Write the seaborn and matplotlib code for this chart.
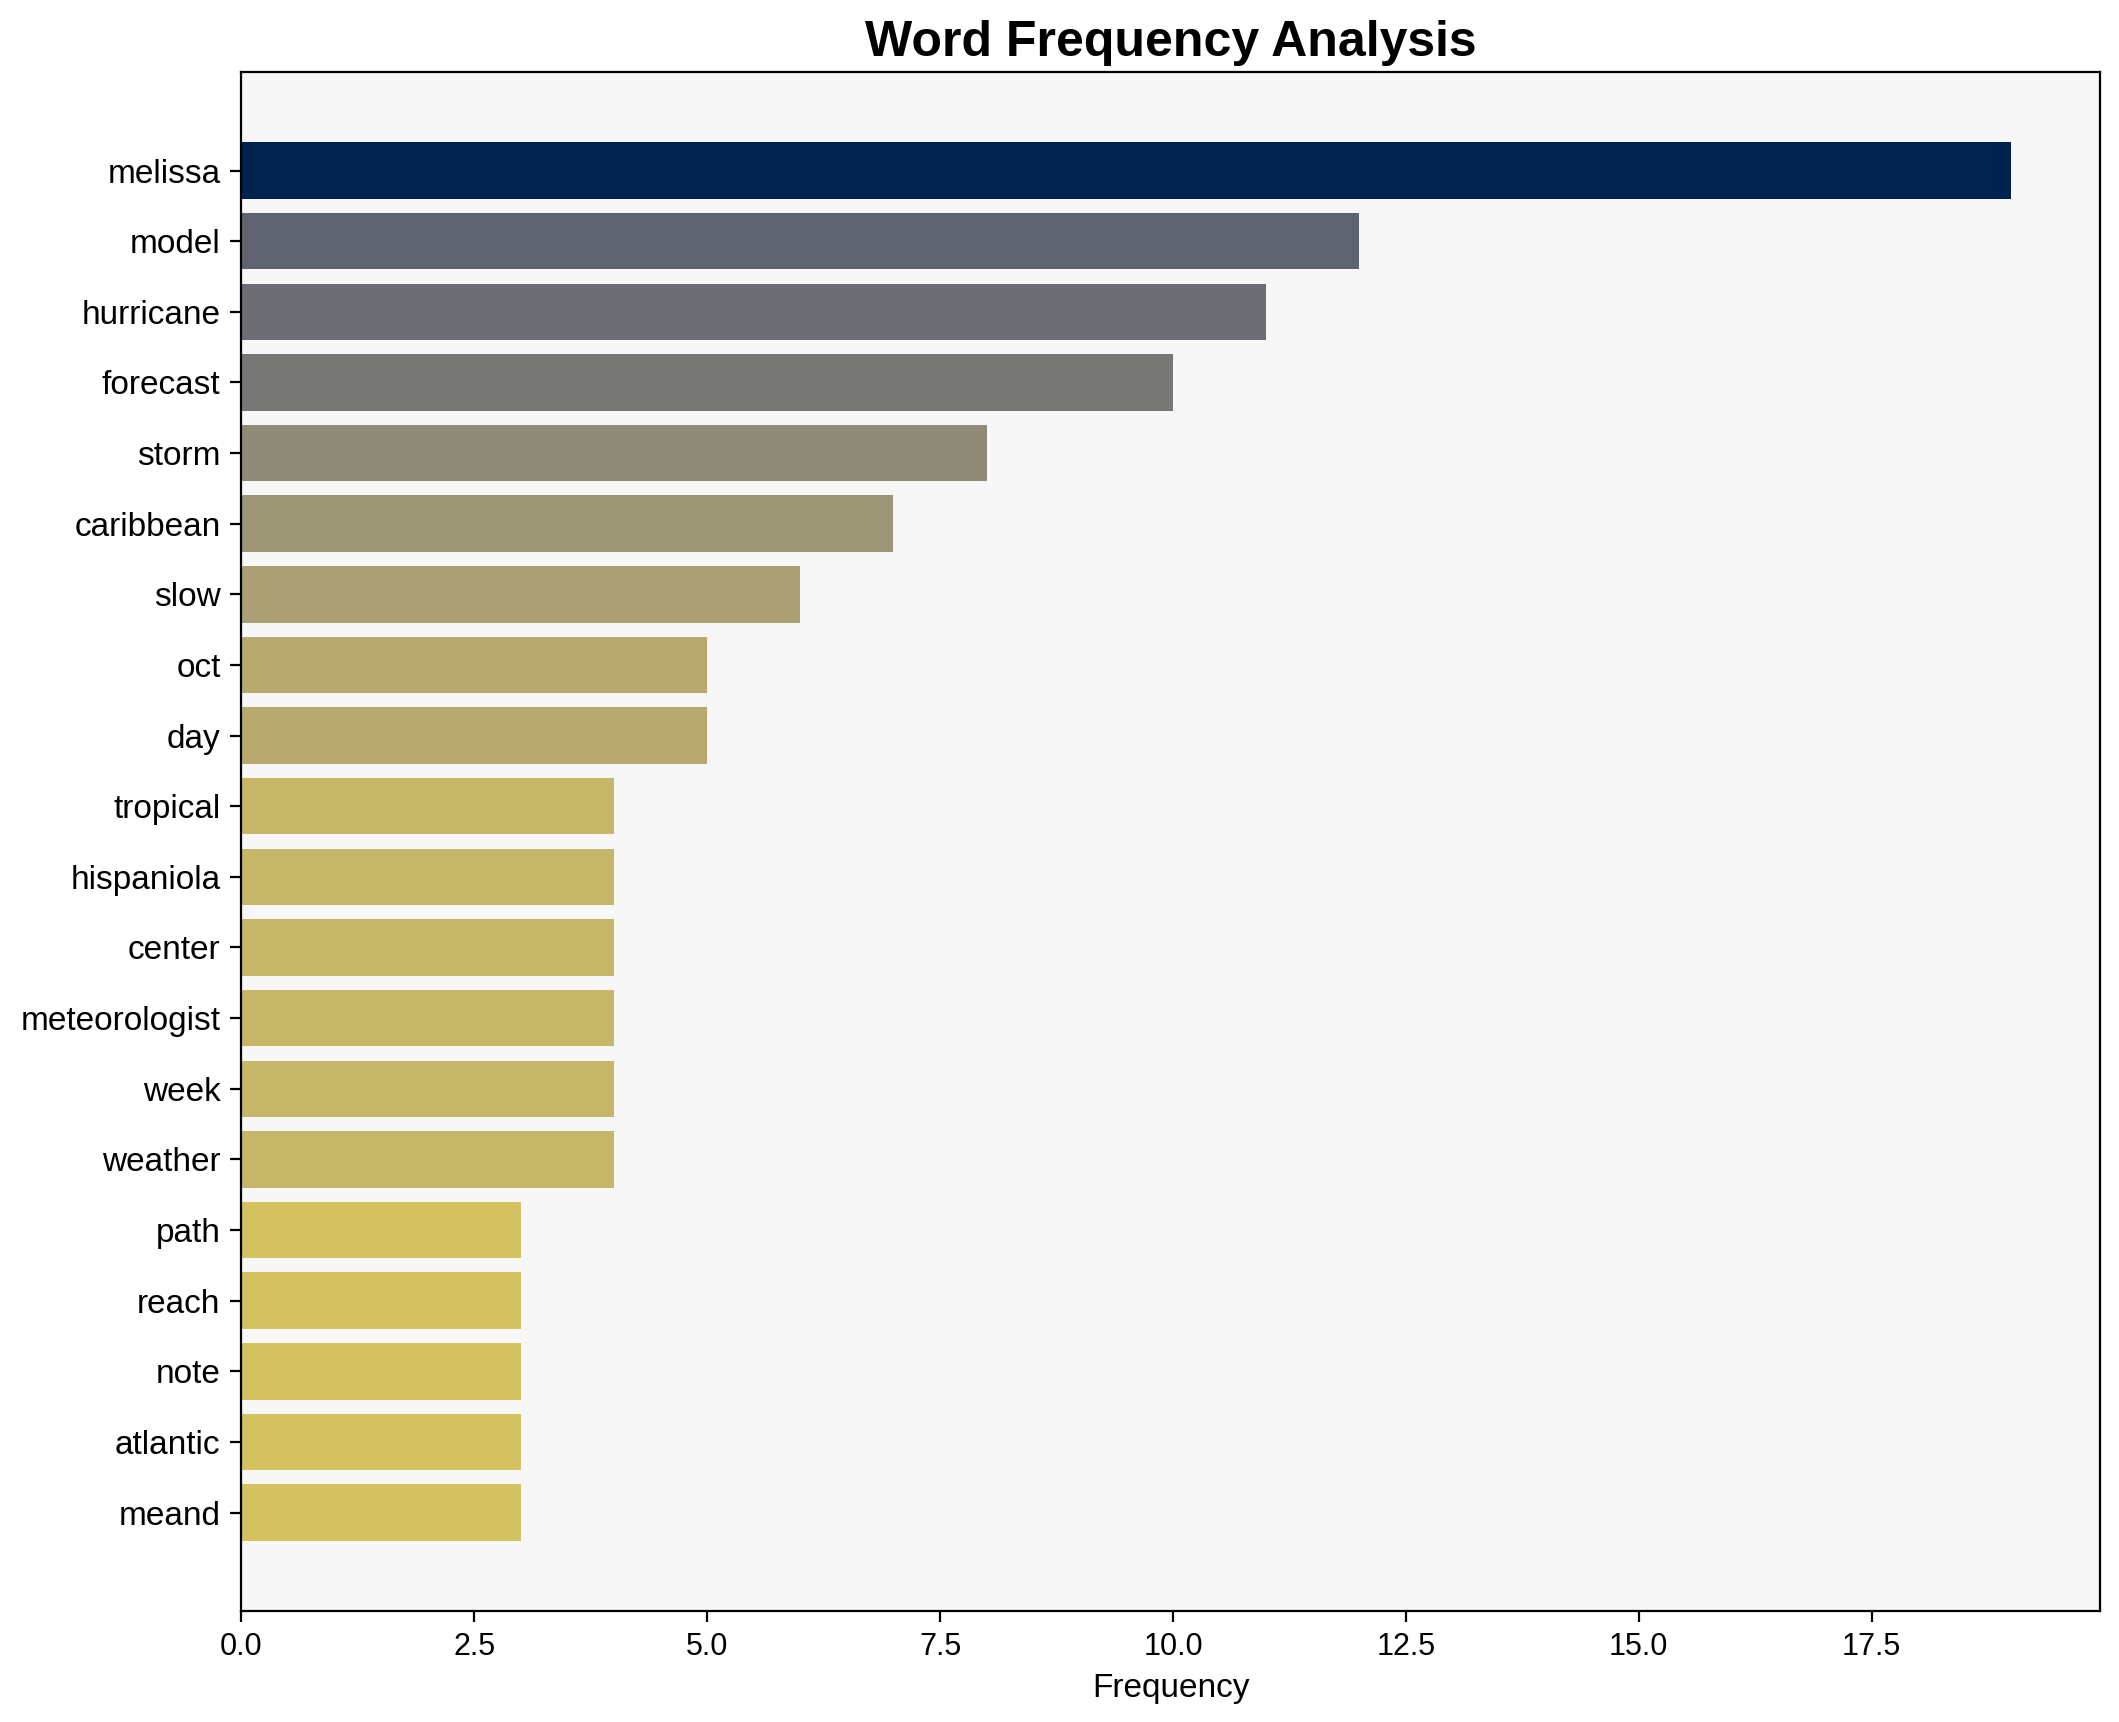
import matplotlib
matplotlib.use("Agg")
import matplotlib.pyplot as plt
import seaborn as sns
import numpy as np
import pandas as pd

words = ["melissa", "model", "hurricane", "forecast", "storm", "caribbean", "slow", "oct", "day",
         "tropical", "hispaniola", "center", "meteorologist", "week", "weather",
         "path", "reach", "note", "atlantic", "meand"]
counts = [19, 12, 11, 10, 8, 7, 6, 5, 5, 4, 4, 4, 4, 4, 4, 3, 3, 3, 3, 3]

sns.set_style("white")
plt.rcParams['font.family'] = ['Liberation Sans', 'DejaVu Sans']
plt.rcParams['text.color'] = 'black'
plt.rcParams['axes.labelcolor'] = 'black'
plt.rcParams['xtick.color'] = 'black'
plt.rcParams['ytick.color'] = 'black'

df = pd.DataFrame({"word": words, "count": counts})
cmap = plt.get_cmap("cividis")
mx = max(counts)
palette = {w: cmap(1 - c / mx) for w, c in zip(words, counts)}

fig = plt.figure(figsize=(2119 / 200, 1722 / 200), dpi=200)
ax = fig.add_axes([0.1139, 0.0646, 0.9910 - 0.1139, 0.958 - 0.0646])
sns.barplot(data=df, x="count", y="word", hue="word", palette=palette, orient="h",
            width=0.8, legend=False, ax=ax, saturation=1, linewidth=0, edgecolor="none")
n = len(words)
pad = 0.05 * (n - 1 + 0.8)
ax.set_ylim(n - 1 + 0.4 + pad, -0.4 - pad)
ax.set_xlim(0, mx * 1.05)
ax.set_facecolor("#f7f7f7")
for s in ax.spines.values():
    s.set_visible(True)
    s.set_color("black")
    s.set_linewidth(0.8)
ax.tick_params(axis="both", which="both", length=4, width=0.8, color="black",
               labelcolor="black", left=True, bottom=True)
ax.tick_params(axis="y", labelsize=12)
ax.tick_params(axis="x", labelsize=11)
ax.set_xlabel("Frequency", fontsize=12, color="black")
ax.set_ylabel("")
ax.set_title("Word Frequency Analysis", fontsize=18, fontweight="bold", pad=6, color="black")
fig.savefig("out.png", dpi=200)
